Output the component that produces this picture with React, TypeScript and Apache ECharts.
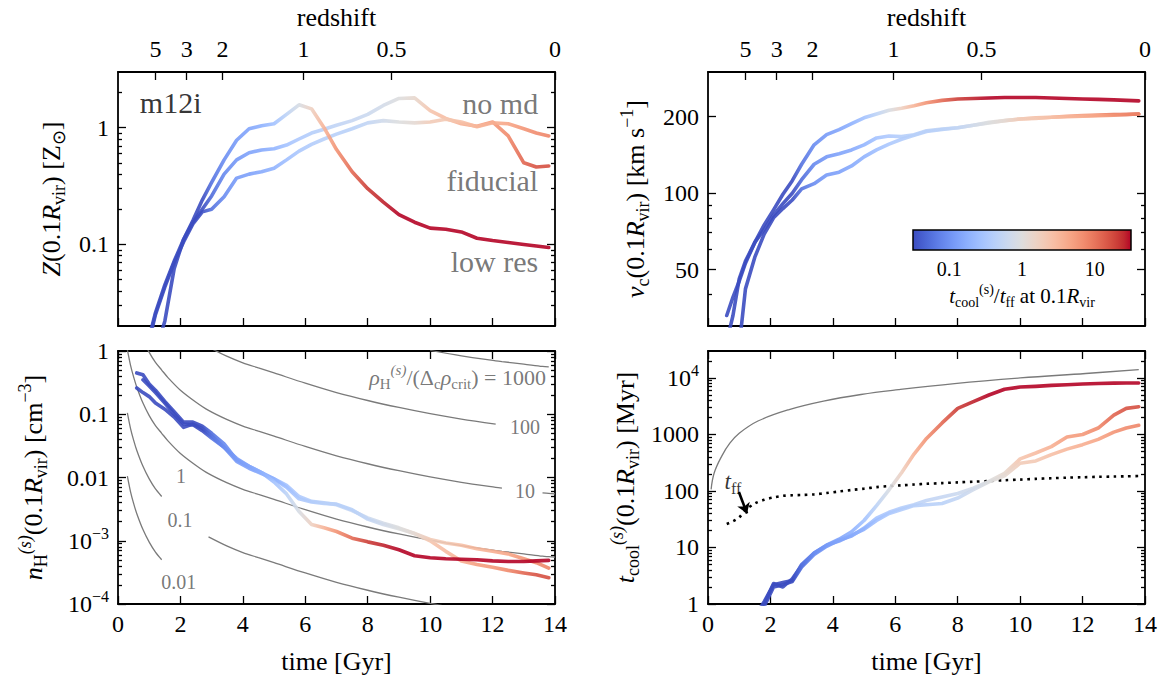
import React, { useEffect, useRef } from "react";
import * as echarts from "echarts";

// ---------------- data ----------------
const TIME = [0.6, 0.8, 1.0, 1.2, 1.5, 1.8, 2.1, 2.4, 2.7, 3.0, 3.4, 3.8, 4.2, 4.6, 5.0, 5.4, 5.8, 6.2, 6.6, 7.0, 7.5, 8.0, 8.5, 9.0, 9.5, 10.0, 10.5, 11.0, 11.5, 12.0, 12.5, 13.0, 13.4, 13.8];

// Z(0.1 Rvir) [Zsun]
const Z_FIDUCIAL = [null, null, 0.016, 0.026, 0.045, 0.072, 0.11, 0.155, 0.2, 0.26, 0.4, 0.53, 0.61, 0.645, 0.66, 0.71, 0.8, 0.9, 0.97, 1.05, 1.15, 1.3, 1.55, 1.78, 1.8, 1.4, 1.2, 1.08, 1.03, 1.12, 0.85, 0.5, 0.46, 0.47];
const Z_NO_MD = [null, null, 0.015, 0.025, 0.043, 0.07, 0.105, 0.15, 0.19, 0.2, 0.256, 0.37, 0.4, 0.42, 0.45, 0.53, 0.63, 0.72, 0.8, 0.88, 0.98, 1.1, 1.15, 1.12, 1.1, 1.12, 1.18, 1.12, 1.02, 1.1, 1.08, 0.98, 0.9, 0.85];
const Z_LOW_RES = [null, null, null, 0.012, 0.022, 0.062, 0.11, 0.16, 0.24, 0.34, 0.53, 0.78, 0.98, 1.04, 1.08, 1.3, 1.57, 1.45, 1.0, 0.65, 0.42, 0.3, 0.23, 0.18, 0.155, 0.138, 0.135, 0.128, 0.113, 0.108, 0.104, 0.1, 0.097, 0.094];

// v_c(0.1 Rvir) [km/s]
const VC_FIDUCIAL = [26, 33, 46, 54, 64, 72, 82, 91, 100, 113, 130, 139, 143, 148, 155, 165, 168, 167, 170, 176, 179, 181, 185, 190, 193, 196, 198, 199, 201, 202, 203, 204, 204, 205];
const VC_NO_MD = [null, null, 25, 42, 56, 69, 80, 87, 94, 104, 109, 118, 121, 128, 139, 148, 156, 163, 169, 175, 178, 181, 185, 189, 193, 196, 197, 199, 200, 201, 202, 203, 204, 205];
const VC_LOW_RES = [33, 39, 45, 53, 64, 75, 86, 99, 112, 130, 155, 170, 178, 188, 198, 205, 212, 216, 221, 227, 232, 235, 236, 237, 238, 238, 238, 237, 236, 235, 234, 233, 232, 231];

// n_H^(s)(0.1 Rvir) [cm^-3]
const NH_FIDUCIAL = [0.45, 0.42, 0.3, 0.24, 0.16, 0.11, 0.075, 0.075, 0.065, 0.05, 0.034, 0.019, 0.015, 0.012, 0.0095, 0.0075, 0.005, 0.0042, 0.004, 0.0037, 0.003, 0.0023, 0.0019, 0.0016, 0.0013, 0.001, 0.00068, 0.00048, 0.00042, 0.00038, 0.00034, 0.00031, 0.00029, 0.00026];
const NH_NO_MD = [0.26, 0.22, 0.19, 0.15, 0.12, 0.09, 0.062, 0.07, 0.06, 0.045, 0.03, 0.018, 0.014, 0.0115, 0.0095, 0.007, 0.0046, 0.0041, 0.0039, 0.0038, 0.0031, 0.0022, 0.0018, 0.00155, 0.0013, 0.00105, 0.00092, 0.00085, 0.00075, 0.00068, 0.00062, 0.00052, 0.00045, 0.00037];
const NH_LOW_RES = [null, 0.35, 0.28, 0.22, 0.15, 0.1, 0.07, 0.068, 0.055, 0.042, 0.03, 0.02, 0.015, 0.012, 0.0085, 0.0055, 0.0029, 0.0018, 0.0016, 0.0014, 0.0011, 0.00096, 0.00085, 0.00072, 0.00058, 0.00054, 0.00052, 0.00051, 0.0005, 0.00048, 0.00047, 0.00047, 0.00048, 0.00049];

// t_cool^(s)(0.1 Rvir) [Myr]
const TCOOL_FIDUCIAL = [0.1, 0.15, 0.25, 0.35, 0.5, 0.9, 2.0, 2.2, 2.5, 4.5, 7.5, 10.5, 13.5, 16, 22, 33, 42, 50, 57, 68, 78, 90, 112, 148, 205, 370, 470, 610, 900, 1000, 1300, 2200, 2900, 3100];
const TCOOL_NO_MD = [0.1, 0.15, 0.25, 0.35, 0.55, 1.0, 2.3, 2.0, 2.8, 4.8, 8.0, 11, 13, 16.5, 21, 30, 40, 47, 55, 57, 60, 75, 105, 145, 185, 310, 340, 440, 550, 660, 820, 1100, 1300, 1450];
const TCOOL_LOW_RES = [0.1, 0.15, 0.25, 0.35, 0.6, 1.1, 2.2, 2.4, 2.6, 5.0, 8.0, 11, 14, 19, 30, 55, 105, 210, 450, 850, 1600, 2900, 3800, 5000, 6300, 6900, 7100, 7400, 7600, 7800, 8000, 8100, 8150, 8150];
// free-fall time (dotted)
const TFF = [26, 29, 34, 46, 60, 70, 77, 82, 84, 85, 87, 92, 98, 104, 110, 117, 122, 126, 130, 134, 138, 142, 146, 150, 155, 159, 164, 168, 172, 175, 178, 180, 182, 184];

// thin grey curve of the t_cool panel
const GREY_TIME = [0.1, 0.2, 0.44, 0.7, 1.0, 1.6, 2.6, 3.7, 4.9, 6.1, 7.9, 10.0, 12.1, 13.8];
const GREY_TCOOL = [107, 210, 414, 700, 1050, 1730, 2760, 3900, 5100, 6200, 7950, 10000, 12000, 14000];

// n_H of the rho/(Delta_c rho_crit) = 1 curve
const RHO_TIME = [0.3, 0.4, 0.5, 0.6, 0.8, 1.0, 1.2, 1.4, 1.6, 2.0, 2.5, 2.9, 3.5, 4.0, 4.5, 5.0, 6.0, 7.0, 8.0, 9.0, 10.0, 11.0, 12.1, 12.3, 13.0, 13.6, 13.8, 14.0];
const RHO_UNIT_NH = [1.05, 0.6, 0.39, 0.27, 0.15, 0.095, 0.066, 0.05, 0.038, 0.024, 0.0155, 0.0115, 0.0082, 0.0065, 0.0054, 0.0045, 0.0031, 0.0022, 0.00165, 0.00128, 0.00102, 0.00084, 0.0007, 0.00068, 0.00062, 0.00057, 0.00056, 0.00055];
const RHO_LEVELS = [1000, 100, 10, 1, 0.1, 0.01];
const RHO_LEVEL_LABELS = ["1000", "100", "10", "1", "0.1", "0.01"];
const RHO_SEGMENTS = [
  [[10.0, 13.8]],
  [[2.9, 12.1]],
  [[0.8, 12.3], [13.6, 14.0]],
  [[0.3, 14.0]],
  [[0.3, 1.4], [2.9, 14.0]],
  [[0.3, 1.4]],
];

const REDSHIFT_LABELS = ["5", "3", "2", "1", "0.5", "0"];
const REDSHIFT_TIMES = [1.2, 2.2, 3.35, 5.94, 8.76, 14.0];

const Z_TICKS = [0.1, 1];
const Z_TICK_LABELS = ["0.1", "1"];
const VC_TICKS = [50, 100, 200];
const VC_TICK_LABELS = ["50", "100", "200"];
const VC_MINOR = [40, 60, 70, 80, 90];
const NH_TICKS = [1e-4, 1e-3, 0.01, 0.1, 1];
const NH_TICK_LABELS = ["10^−4", "10^−3", "0.01", "0.1", "1"];
const TC_TICKS = [1, 10, 100, 1000, 10000];
const TC_TICK_LABELS = ["1", "10", "100", "1000", "10^4"];
const CB_TICKS = [0.1, 1, 10];
const CB_TICK_LABELS = ["0.1", "1", "10"];

const SIM_NAMES = ["fiducial", "no md", "low res"];

// ---------------- styling helpers ----------------
const FONT = "Liberation Serif";
const TICK_SIZE = 24;
const NAME_SIZE = 26;
const NOTE_SIZE = 30;
const AXIS_LINE = { color: "#000", width: 1.8 };
const TICK = { color: "#000", width: 1.3 };
const GREY_TEXT = "#555555";

const COOLWARM = [
  [59, 76, 192], [68, 90, 204], [77, 104, 215], [87, 117, 225], [98, 130, 234], [108, 142, 241],
  [119, 154, 247], [130, 165, 251], [141, 176, 254], [152, 185, 255], [163, 194, 255], [174, 201, 253],
  [184, 208, 249], [194, 213, 244], [204, 217, 238], [213, 219, 230], [221, 221, 221], [229, 216, 209],
  [236, 211, 197], [241, 204, 185], [245, 196, 173], [247, 187, 160], [247, 177, 148], [247, 166, 135],
  [244, 154, 123], [241, 141, 111], [236, 127, 99], [229, 112, 88], [222, 96, 77], [213, 80, 66],
  [203, 62, 56], [192, 40, 47], [180, 4, 38],
];
const CB_LOG_MIN = -1.5;
const CB_LOG_MAX = 1.5;

function coolwarm(s: number) {
  const c = Math.max(0, Math.min(1, s));
  const p = c * (COOLWARM.length - 1);
  const i = Math.min(COOLWARM.length - 2, Math.floor(p));
  const f = p - i;
  const a = COOLWARM[i], b = COOLWARM[i + 1];
  const m = (k: number) => Math.round(a[k] + (b[k] - a[k]) * f);
  return `rgb(${m(0)},${m(1)},${m(2)})`;
}

function richStyles(S: number, color = "#000") {
  const L = Math.round(S * 1.3);
  const s = Math.round(S * 0.68);
  return {
    r: { fontFamily: FONT, fontSize: S, lineHeight: L, color },
    i: { fontFamily: FONT, fontSize: S, lineHeight: L, color, fontStyle: "italic" },
    sub: { fontFamily: FONT, fontSize: s, lineHeight: s, color, verticalAlign: "bottom" },
    sup: { fontFamily: FONT, fontSize: s, lineHeight: s, color, verticalAlign: "top" },
    supi: { fontFamily: FONT, fontSize: s, lineHeight: s, color, verticalAlign: "top", fontStyle: "italic" },
  };
}

// plain label text -> rich markup ("10^4" -> base + superscript)
function rt(text: string) {
  const k = text.indexOf("^");
  if (k < 0) return `{r|${text}}`;
  return `{r|${text.slice(0, k)}}{sup|${text.slice(k + 1)}}`;
}

function minorLog(min: number, max: number) {
  const out: number[] = [];
  for (let e = -6; e <= 6; e++) {
    for (let k = 2; k <= 9; k++) {
      const v = +(k * Math.pow(10, e)).toPrecision(6);
      if (v > min * 1.0001 && v < max * 0.9999) out.push(v);
    }
  }
  return out;
}

function pickLabel(ticks: number[], labels: string[]) {
  return (v: number) => {
    let best = 0, bd = Infinity;
    ticks.forEach((m, i) => {
      const d = Math.abs(Math.log10(v) - Math.log10(m));
      if (d < bd) { bd = d; best = i; }
    });
    return rt(labels[best]);
  };
}

function xAxesFor(gi: number, bottomLabels: boolean, redshiftTop: boolean) {
  const base: any = {
    type: "value", gridIndex: gi, min: 0, max: 14, interval: 2,
    splitLine: { show: false },
    axisLine: { show: true, onZero: false, lineStyle: AXIS_LINE },
  };
  const bottom = {
    ...base, position: "bottom",
    axisTick: { show: true, inside: true, length: 8, lineStyle: TICK },
    axisLabel: {
      show: bottomLabels, formatter: (v: number) => rt(String(v)), rich: richStyles(TICK_SIZE),
      fontFamily: FONT, fontSize: TICK_SIZE, color: "#000", margin: 4,
    },
    name: bottomLabels ? "{r|time [Gyr]}" : "",
    nameLocation: "middle", nameGap: 40,
    nameTextStyle: { fontFamily: FONT, fontSize: NAME_SIZE, color: "#000", rich: richStyles(NAME_SIZE) },
  };
  const top = redshiftTop
    ? {
        ...base, position: "top",
        axisTick: { show: true, inside: true, length: 8, lineStyle: TICK, customValues: REDSHIFT_TIMES },
        axisLabel: {
          show: true, customValues: REDSHIFT_TIMES,
          formatter: (v: number) => {
            const i = REDSHIFT_TIMES.findIndex((t) => Math.abs(t - v) < 1e-6);
            return i >= 0 ? rt(REDSHIFT_LABELS[i]) : "";
          },
          rich: richStyles(TICK_SIZE),
          fontFamily: FONT, fontSize: TICK_SIZE, color: "#000", margin: 8,
        },
        name: "{r|redshift}", nameLocation: "middle", nameGap: 38,
        nameTextStyle: { fontFamily: FONT, fontSize: NAME_SIZE, color: "#000", rich: richStyles(NAME_SIZE) },
      }
    : {
        ...base, position: "top",
        axisTick: { show: true, inside: true, length: 8, lineStyle: TICK },
        axisLabel: { show: false },
      };
  return [bottom, top];
}

function logYAxes(gi: number, min: number, max: number, majors: number[], labels: string[], minors: number[], name: string, nameGap: number) {
  const common: any = {
    type: "log", logBase: 10, gridIndex: gi, min, max,
    splitLine: { show: false }, minorTick: { show: false }, minorSplitLine: { show: false },
  };
  return [
    {
      ...common, position: "left",
      axisLine: { show: true, onZero: false, lineStyle: AXIS_LINE },
      axisTick: { show: true, inside: true, length: 8, lineStyle: TICK, customValues: majors },
      axisLabel: {
        show: true, customValues: majors, formatter: pickLabel(majors, labels),
        fontFamily: FONT, fontSize: TICK_SIZE, color: "#000", margin: 9, rich: richStyles(TICK_SIZE),
      },
      name, nameLocation: "middle", nameGap,
      nameTextStyle: { fontFamily: FONT, fontSize: NAME_SIZE, color: "#000", rich: richStyles(NAME_SIZE) },
    },
    {
      ...common, position: "right",
      axisLine: { show: true, onZero: false, lineStyle: AXIS_LINE },
      axisTick: { show: true, inside: true, length: 8, lineStyle: TICK, customValues: majors },
      axisLabel: { show: false },
    },
    {
      ...common, position: "left",
      axisLine: { show: false, onZero: false },
      axisTick: { show: true, inside: true, length: 4, lineStyle: TICK, customValues: minors },
      axisLabel: { show: false },
    },
    {
      ...common, position: "right",
      axisLine: { show: false, onZero: false },
      axisTick: { show: true, inside: true, length: 4, lineStyle: TICK, customValues: minors },
      axisLabel: { show: false },
    },
  ];
}

function lineGradient(values: (number | null)[], ratios: number[]) {
  const idx: number[] = [];
  values.forEach((v, i) => { if (v != null) idx.push(i); });
  const t0 = TIME[idx[0]], t1 = TIME[idx[idx.length - 1]];
  const colorStops = idx.map((i) => ({
    offset: (TIME[i] - t0) / (t1 - t0),
    color: coolwarm((Math.log10(ratios[i]) - CB_LOG_MIN) / (CB_LOG_MAX - CB_LOG_MIN)),
  }));
  return { type: "linear", x: 0, y: 0, x2: 1, y2: 0, colorStops, global: false };
}

function simSeries(gi: number, name: string, values: (number | null)[], ratios: number[]) {
  const data: any[] = [];
  TIME.forEach((t, i) => { if (values[i] != null) data.push([t, values[i]]); });
  return {
    type: "line", name, xAxisIndex: gi * 2, yAxisIndex: gi * 4, data,
    showSymbol: false, symbol: "none", silent: true, z: 3,
    emphasis: { disabled: true },
    lineStyle: { width: 3.6, color: lineGradient(values, ratios), opacity: 0.9, cap: "round", join: "round" },
  };
}

function notes(gi: number, items: any[]) {
  return {
    type: "scatter", xAxisIndex: gi * 2, yAxisIndex: gi * 4, symbolSize: 1, silent: true, z: 6,
    itemStyle: { color: "rgba(0,0,0,0)" },
    emphasis: { disabled: true },
    data: items.map((a) => ({
      value: [a.t, a.v],
      label: {
        show: true, position: "inside", align: a.align, verticalAlign: "middle",
        formatter: a.text.indexOf("{") === 0 ? a.text : rt(a.text),
        color: a.color, fontSize: a.size, fontFamily: FONT,
        rich: richStyles(a.size, a.color),
      },
    })),
  };
}

function buildOption() {
  const ratio = (tc: number[]) => tc.map((v, i) => v / TFF[i]);
  const R = [ratio(TCOOL_FIDUCIAL), ratio(TCOOL_NO_MD), ratio(TCOOL_LOW_RES)];
  const Zs = [Z_FIDUCIAL, Z_NO_MD, Z_LOW_RES];
  const VCs = [VC_FIDUCIAL, VC_NO_MD, VC_LOW_RES];
  const NHs = [NH_FIDUCIAL, NH_NO_MD, NH_LOW_RES];
  const TCs = [TCOOL_FIDUCIAL, TCOOL_NO_MD, TCOOL_LOW_RES];

  const grids: any[] = [
    { left: 118, top: 72, width: 437, height: 254 },
    { left: 708, top: 72, width: 437, height: 254 },
    { left: 118, top: 351, width: 437, height: 253 },
    { left: 708, top: 351, width: 437, height: 253 },
    {
      left: 913, top: 230, width: 218, height: 20, show: true, z: 5,
      backgroundColor: {
        type: "linear", x: 0, y: 0, x2: 1, y2: 0,
        colorStops: COOLWARM.map((c, i) => ({ offset: i / (COOLWARM.length - 1), color: `rgb(${c[0]},${c[1]},${c[2]})` })),
      },
      borderColor: "#000", borderWidth: 1.5,
    },
  ].map((g) => ({ ...g, containLabel: false, outerBoundsMode: "none" }));

  const cbMin = Math.pow(10, CB_LOG_MIN), cbMax = Math.pow(10, CB_LOG_MAX);
  const xAxis: any[] = [
    ...xAxesFor(0, false, true),
    ...xAxesFor(1, false, true),
    ...xAxesFor(2, true, false),
    ...xAxesFor(3, true, false),
    {
      type: "log", logBase: 10, gridIndex: 4, min: cbMin, max: cbMax, position: "bottom",
      axisLine: { show: false, onZero: false }, splitLine: { show: false },
      axisTick: { show: true, inside: true, length: 7, lineStyle: { color: "#000", width: 1.2 }, customValues: CB_TICKS },
      axisLabel: {
        show: true, customValues: CB_TICKS, formatter: pickLabel(CB_TICKS, CB_TICK_LABELS),
        fontFamily: FONT, fontSize: 20, color: "#000", margin: 6, rich: richStyles(20),
      },
      name: "{i|t}{sub|cool}{sup|(s)}{r|/}{i|t}{sub|ff}{r| at 0.1}{i|R}{sub|vir}",
      nameLocation: "middle", nameGap: 32,
      nameTextStyle: { fontFamily: FONT, fontSize: 21, color: "#000", rich: richStyles(21) },
    },
    {
      type: "log", logBase: 10, gridIndex: 4, min: cbMin, max: cbMax, position: "bottom",
      axisLine: { show: false, onZero: false }, splitLine: { show: false },
      axisTick: { show: true, inside: true, length: 3.5, lineStyle: { color: "#000", width: 1.1 }, customValues: minorLog(cbMin, cbMax) },
      axisLabel: { show: false },
    },
  ];

  const yAxis: any[] = [
    ...logYAxes(0, 0.02, 3, Z_TICKS, Z_TICK_LABELS, minorLog(0.02, 3),
      "{i|Z}{r|(0.1}{i|R}{sub|vir}{r|) [Z}{sub|⊙}{r|]}", 50),
    ...logYAxes(1, 30, 300, VC_TICKS, VC_TICK_LABELS, VC_MINOR,
      "{i|v}{sub|c}{r|(0.1}{i|R}{sub|vir}{r|) [km s}{sup|−1}{r|]}", 56),
    ...logYAxes(2, 1e-4, 1, NH_TICKS, NH_TICK_LABELS, minorLog(1e-4, 1),
      "{i|n}{sub|H}{supi|(s)}{r|(0.1}{i|R}{sub|vir}{r|) [cm}{sup|−3}{r|]}", 68),
    ...logYAxes(3, 1, 30000, TC_TICKS, TC_TICK_LABELS, minorLog(1, 30000),
      "{i|t}{sub|cool}{supi|(s)}{r|(0.1}{i|R}{sub|vir}{r|) [Myr]}", 66),
    { type: "value", gridIndex: 4, min: 0, max: 1, show: false },
  ];

  const series: any[] = [];

  // density reference curves (bottom-left)
  RHO_LEVELS.forEach((lvl, k) => {
    const data: any[] = [];
    RHO_SEGMENTS[k].forEach((seg, si) => {
      if (si > 0) data.push([(RHO_SEGMENTS[k][si - 1][1] + seg[0]) / 2, "-"]);
      RHO_TIME.forEach((t, i) => {
        if (t >= seg[0] - 1e-9 && t <= seg[1] + 1e-9) data.push([t, lvl * RHO_UNIT_NH[i]]);
      });
    });
    series.push({
      type: "line", name: "rho " + RHO_LEVEL_LABELS[k], xAxisIndex: 4, yAxisIndex: 8, data,
      showSymbol: false, symbol: "none", smooth: 0.3, silent: true, z: 2, connectNulls: false,
      emphasis: { disabled: true },
      lineStyle: { color: "#7a7a7a", width: 1.3 },
    });
  });

  // grey curve and t_ff (bottom-right)
  series.push({
    type: "line", name: "grey", xAxisIndex: 6, yAxisIndex: 12,
    data: GREY_TIME.map((t, i) => [t, GREY_TCOOL[i]]),
    showSymbol: false, symbol: "none", smooth: 0.4, silent: true, z: 2,
    emphasis: { disabled: true },
    lineStyle: { color: "#7a7a7a", width: 1.3 },
  });
  series.push({
    type: "line", name: "t_ff", xAxisIndex: 6, yAxisIndex: 12,
    data: TIME.map((t, i) => [t, TFF[i]]),
    showSymbol: false, symbol: "none", smooth: 0.3, silent: true, z: 2,
    emphasis: { disabled: true },
    lineStyle: { color: "#000", width: 2.6, type: [2.6, 4.6] },
    markLine: {
      silent: true, symbol: ["none", "arrow"], symbolSize: 10, animation: false,
      label: { show: false }, emphasis: { disabled: true },
      lineStyle: { color: "#000", width: 2.6, type: "solid" },
      data: [[{ coord: [0.99, 96] }, { coord: [1.25, 40] }]],
    },
  });

  // simulation curves
  [0, 1, 2].forEach((k) => {
    series.push(simSeries(0, SIM_NAMES[k], Zs[k], R[k]));
    series.push(simSeries(1, SIM_NAMES[k], VCs[k], R[k]));
    series.push(simSeries(2, SIM_NAMES[k], NHs[k], R[k]));
    series.push(simSeries(3, SIM_NAMES[k], TCs[k], R[k]));
  });

  // annotations
  series.push(notes(0, [
    { text: "m12i", t: 0.7, v: 1.63, align: "left", color: "#000", size: NOTE_SIZE },
    { text: SIM_NAMES[1], t: 13.46, v: 1.6, align: "right", color: GREY_TEXT, size: NOTE_SIZE },
    { text: SIM_NAMES[0], t: 13.46, v: 0.356, align: "right", color: GREY_TEXT, size: NOTE_SIZE },
    { text: SIM_NAMES[2], t: 13.46, v: 0.0707, align: "right", color: GREY_TEXT, size: NOTE_SIZE },
  ]));
  series.push(notes(2, [
    { text: "{i|ρ}{sub|H}{supi|(s)}{r|/(Δ}{sub|c}{i|ρ}{sub|crit}{r|) = " + RHO_LEVEL_LABELS[0] + "}", t: 13.71, v: 0.388, align: "right", color: GREY_TEXT, size: 22 },
    { text: RHO_LEVEL_LABELS[1], t: 13.04, v: 0.063, align: "center", color: GREY_TEXT, size: 20 },
    { text: RHO_LEVEL_LABELS[2], t: 13.04, v: 0.00612, align: "center", color: GREY_TEXT, size: 20 },
    { text: RHO_LEVEL_LABELS[3], t: 2.02, v: 0.01056, align: "center", color: GREY_TEXT, size: 20 },
    { text: RHO_LEVEL_LABELS[4], t: 1.99, v: 0.00213, align: "center", color: GREY_TEXT, size: 20 },
    { text: RHO_LEVEL_LABELS[5], t: 1.95, v: 0.000223, align: "center", color: GREY_TEXT, size: 20 },
  ]));
  series.push(notes(3, [
    { text: "{i|t}{sub|ff}", t: 0.8, v: 150, align: "center", color: "#000", size: 23 },
  ]));

  return {
    animation: false,
    backgroundColor: "#fff",
    textStyle: { fontFamily: FONT },
    grid: grids,
    xAxis,
    yAxis,
    series,
  };
}

export default function App() {
  const ref = useRef<HTMLDivElement>(null);
  useEffect(() => {
    const chart = echarts.init(ref.current as HTMLDivElement, null, { renderer: "svg" });
    chart.setOption(buildOption() as any);
    return () => chart.dispose();
  }, []);
  return (
    <div
      ref={ref}
      style={{ position: "fixed", left: 0, top: 0, width: 1167, height: 681, background: "#fff" }}
    />
  );
}
